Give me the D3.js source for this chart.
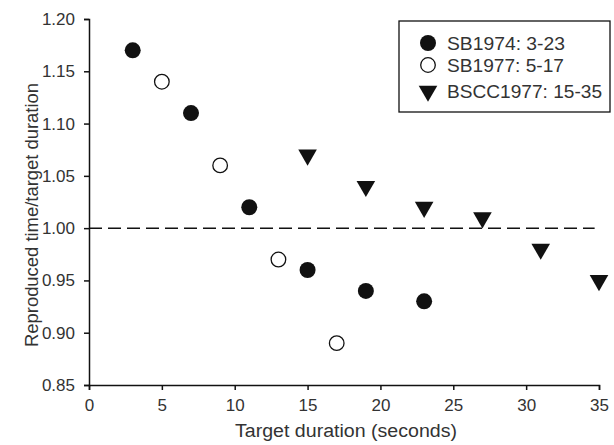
<!DOCTYPE html>
<html>
<head>
<meta charset="utf-8">
<script src="https://cdn.jsdelivr.net/npm/d3@7"></script>
<style>
	body { margin: 0; background: #fff; }
	svg { display: block; font-family: "Liberation Sans", Arial, sans-serif; }
</style>
</head>
<body>
<div id="chart"></div>
<script>
// series: target durations (s) and reproduced/target ratios
const sb1974X = [3, 7, 11, 15, 19, 23];
const sb1974Y = [1.17, 1.11, 1.02, 0.96, 0.94, 0.93];
const sb1977X = [5, 9, 13, 17];
const sb1977Y = [1.14, 1.06, 0.97, 0.89];
const bscc1977X = [15, 19, 23, 27, 31, 35];
const bscc1977Y = [1.07, 1.04, 1.02, 1.01, 0.98, 0.95];

const xTicks = [0, 5, 10, 15, 20, 25, 30, 35];
const yTicks = [0.85, 0.90, 0.95, 1.00, 1.05, 1.10, 1.15, 1.20];
const legendLabels = ["SB1974: 3-23", "SB1977: 5-17", "BSCC1977: 15-35"];

const W = 614, H = 445;
const M = { top: 19, right: 15, bottom: 60, left: 89 };

const svg = d3.select("#chart").append("svg")
	.attr("width", W)
	.attr("height", H);

const x = d3.scaleLinear().domain([0, 35]).range([M.left, W - M.right]);
const y = d3.scaleLinear().domain([0.85, 1.20]).range([H - M.bottom, M.top]);

const textColor = "#333";

// axes
svg.append("g")
	.attr("transform", `translate(0,${H - M.bottom})`)
	.call(d3.axisBottom(x).tickValues(xTicks).tickSize(5).tickPadding(9).tickFormat(d3.format("d")))
	.call(ax => ax.selectAll("path,line").attr("stroke", "#111").attr("stroke-width", 1.5))
	.call(ax => ax.selectAll("text").style("font-size", "17px").style("fill", textColor));

svg.append("g")
	.attr("transform", `translate(${M.left},0)`)
	.call(d3.axisLeft(y).tickValues(yTicks).tickSize(5).tickPadding(9).tickFormat(d3.format(".2f")))
	.call(ax => ax.selectAll("path,line").attr("stroke", "#111").attr("stroke-width", 1.5))
	.call(ax => ax.selectAll("text").style("font-size", "17px").style("fill", textColor));

// axis titles
svg.append("text")
	.attr("x", 346)
	.attr("y", 437)
	.attr("text-anchor", "middle")
	.attr("textLength", 222)
	.attr("lengthAdjust", "spacingAndGlyphs")
	.style("font-size", "18px")
	.style("fill", textColor)
	.text("Target duration (seconds)");

svg.append("text")
	.attr("transform", "translate(38,215) rotate(-90)")
	.attr("text-anchor", "middle")
	.attr("textLength", 264)
	.attr("lengthAdjust", "spacingAndGlyphs")
	.style("font-size", "18px")
	.style("fill", textColor)
	.text("Reproduced time/target duration");

// reference line at 1.00
svg.append("line")
	.attr("x1", x(0))
	.attr("x2", x(34.7))
	.attr("y1", y(1))
	.attr("y2", y(1))
	.attr("stroke", "#111")
	.attr("stroke-width", 1.5)
	.attr("stroke-dasharray", "13,6");

// markers
const tri = d3.symbol().type(d3.symbolTriangle).size(150);

svg.append("g").selectAll("circle")
	.data(d3.zip(sb1974X, sb1974Y))
	.join("circle")
	.attr("cx", d => x(d[0]))
	.attr("cy", d => y(d[1]))
	.attr("r", 8)
	.attr("fill", "#111");

svg.append("g").selectAll("circle")
	.data(d3.zip(sb1977X, sb1977Y))
	.join("circle")
	.attr("cx", d => x(d[0]))
	.attr("cy", d => y(d[1]))
	.attr("r", 7.3)
	.attr("fill", "#fff")
	.attr("stroke", "#111")
	.attr("stroke-width", 1.3);

svg.append("g").selectAll("path")
	.data(d3.zip(bscc1977X, bscc1977Y))
	.join("path")
	.attr("d", tri)
	.attr("transform", d => `translate(${x(d[0])},${y(d[1])}) rotate(180)`)
	.attr("fill", "#111");

// legend
const lg = svg.append("g").attr("transform", "translate(399,21)");
lg.append("rect")
	.attr("width", 211)
	.attr("height", 91)
	.attr("fill", "#fff")
	.attr("stroke", "#111")
	.attr("stroke-width", 1.3);

const rowY = [22, 44, 70];
const labelLen = [118, 117, 155];
lg.append("circle").attr("cx", 29).attr("cy", rowY[0]).attr("r", 8).attr("fill", "#111");
lg.append("circle").attr("cx", 29).attr("cy", rowY[1]).attr("r", 7.3)
	.attr("fill", "#fff").attr("stroke", "#111").attr("stroke-width", 1.3);
lg.append("path").attr("d", tri)
	.attr("transform", `translate(29,${rowY[2]}) rotate(180)`).attr("fill", "#111");

lg.selectAll(".lab")
	.data(legendLabels)
	.join("text")
	.attr("class", "lab")
	.attr("x", 48)
	.attr("y", (d, i) => rowY[i] + 7)
	.attr("textLength", (d, i) => labelLen[i])
	.attr("lengthAdjust", "spacingAndGlyphs")
	.style("font-size", "18px")
	.style("fill", textColor)
	.text(d => d);
</script>
</body>
</html>
